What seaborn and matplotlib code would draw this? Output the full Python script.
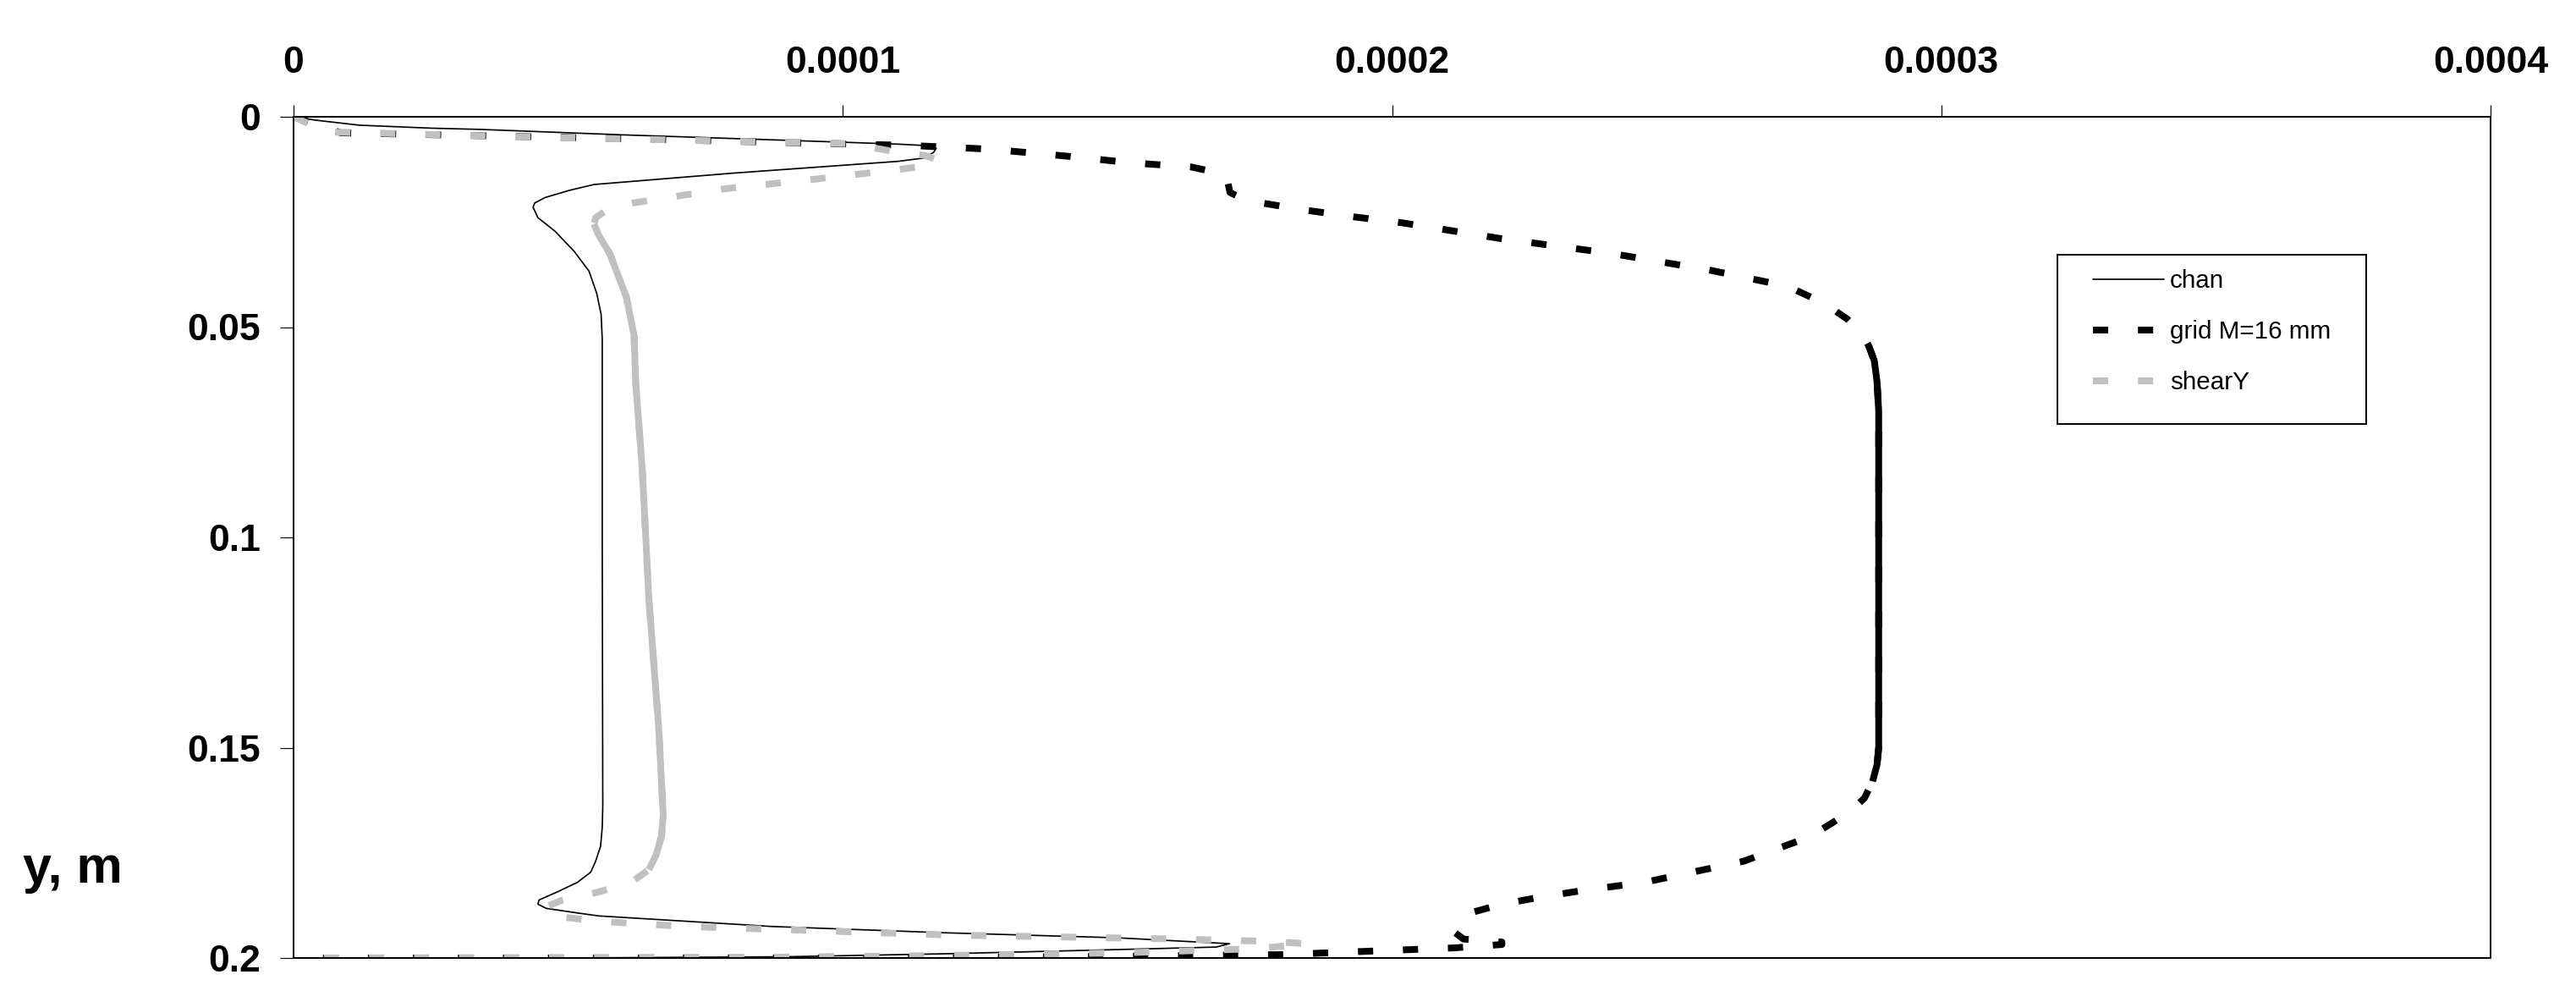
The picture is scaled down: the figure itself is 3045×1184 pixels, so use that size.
import matplotlib
matplotlib.use("Agg")
import matplotlib.pyplot as plt
import seaborn as sns
import numpy as np
from matplotlib.lines import Line2D
from matplotlib.patches import Rectangle

# ---------------- data ----------------
series_names = ["chan", "grid M=16 mm", "shearY"]

chan_x = [0, 4.0e-6, 1.2e-5, 2.5e-5, 3.4e-5, 6.0e-5, 9.0e-5, 1.10e-4, 1.16e-4, 1.17e-4,
          1.165e-4, 1.148e-4, 1.10e-4, 8.0e-5, 5.47e-5, 5.02e-5, 4.58e-5, 4.39e-5, 4.36e-5, 4.45e-5,
          4.76e-5, 5.11e-5, 5.38e-5, 5.52e-5, 5.60e-5, 5.62e-5, 5.62e-5, 5.63e-5, 5.62e-5, 5.59e-5,
          5.50e-5, 5.41e-5, 5.17e-5, 4.80e-5, 4.47e-5, 4.45e-5, 4.60e-5, 5.17e-5, 5.56e-5, 8.7e-5,
          1.185e-4, 1.5e-4, 1.704e-4, 1.68e-4, 1.5e-4, 1.185e-4, 9.0e-5, 5.0e-5, 0]
chan_y = [0, 0.0008, 0.0020, 0.0027, 0.0030, 0.0043, 0.0056, 0.0065, 0.0069, 0.0075,
          0.0085, 0.0098, 0.0106, 0.0134, 0.0161, 0.0175, 0.0192, 0.0205, 0.0215, 0.0240,
          0.0272, 0.0320, 0.0367, 0.0420, 0.0470, 0.0528, 0.1000, 0.1640, 0.1690, 0.1734,
          0.1770, 0.1796, 0.1820, 0.1843, 0.1862, 0.1872, 0.1882, 0.1893, 0.1900, 0.1925,
          0.1940, 0.1952, 0.1966, 0.1974, 0.1980, 0.1990, 0.1997, 0.2000, 0.2000]

grid_x = [0, 8.6e-6, 6.0e-5, 1.12e-4, 1.268e-4, 1.411e-4, 1.53e-4, 1.633e-4, 1.69e-4, 1.70e-4,
          1.705e-4, 1.73e-4, 1.763e-4, 1.843e-4, 1.931e-4, 2.018e-4, 2.20e-4, 2.40e-4, 2.58e-4, 2.72e-4,
          2.786e-4, 2.829e-4, 2.855e-4, 2.868e-4, 2.878e-4, 2.883e-4, 2.886e-4, 2.886e-4, 2.886e-4, 2.883e-4,
          2.875e-4, 2.86e-4, 2.835e-4, 2.80e-4, 2.76e-4, 2.64e-4, 2.46e-4, 2.35e-4, 2.271e-4, 2.197e-4,
          2.150e-4, 2.128e-4, 2.115e-4, 2.13e-4, 2.20e-4, 2.20e-4, 2.112e-4, 2.034e-4, 1.955e-4, 1.80e-4,
          1.50e-4, 1.03e-4, 0]
grid_y = [0, 0.0038, 0.0052, 0.0068, 0.0077, 0.0094, 0.0110, 0.0119, 0.0135, 0.0150,
          0.0180, 0.0196, 0.0205, 0.0222, 0.0238, 0.0252, 0.0290, 0.0325, 0.0365, 0.0403,
          0.0443, 0.0481, 0.0514, 0.0545, 0.0580, 0.0630, 0.0700, 0.1000, 0.1500, 0.1540,
          0.1580, 0.1620, 0.1650, 0.1680, 0.1712, 0.1770, 0.1820, 0.1839, 0.1855, 0.1873,
          0.1890, 0.1910, 0.1940, 0.1955, 0.1962, 0.1968, 0.1976, 0.1980, 0.1984, 0.1992,
          0.1996, 0.2000, 0.2000]

shear_x = [0, 6.0e-6, 5.0e-5, 1.015e-4, 1.086e-4, 1.15e-4, 1.174e-4, 1.16e-4, 1.103e-4, 9.45e-5,
           7.86e-5, 6.18e-5, 5.7e-5, 5.5e-5, 5.47e-5, 5.55e-5, 5.76e-5, 6.06e-5, 6.2e-5, 6.23e-5,
           6.35e-5, 6.47e-5, 6.65e-5, 6.73e-5, 6.70e-5, 6.60e-5, 6.47e-5, 6.18e-5, 5.59e-5, 4.88e-5,
           4.60e-5, 4.60e-5, 4.85e-5, 5.59e-5, 7.12e-5, 1.185e-4, 1.61e-4, 1.767e-4, 1.846e-4, 1.752e-4,
           1.5e-4, 1.185e-4, 8.7e-5, 0]
shear_y = [0, 0.0036, 0.0050, 0.0064, 0.0081, 0.0092, 0.0103, 0.0115, 0.0125, 0.0149,
           0.0171, 0.0205, 0.0222, 0.0240, 0.0255, 0.0280, 0.0326, 0.0429, 0.0520, 0.0634,
           0.0840, 0.1148, 0.1456, 0.1660, 0.1710, 0.1755, 0.1790, 0.1817, 0.1842, 0.1863,
           0.1878, 0.1892, 0.1902, 0.1913, 0.1925, 0.1945, 0.1955, 0.1960, 0.1966, 0.1978,
           0.1988, 0.1994, 0.1998, 0.2000]

x_ticks = [0, 0.0001, 0.0002, 0.0003, 0.0004]
x_tick_labels = ["0", "0.0001", "0.0002", "0.0003", "0.0004"]
y_ticks = [0, 0.05, 0.1, 0.15, 0.2]
y_tick_labels = ["0", "0.05", "0.1", "0.15", "0.2"]
y_label = "y, m"

# ---------------- style ----------------
sns.set_theme(style="ticks")
plt.rcParams['font.family'] = ['Liberation Sans', 'DejaVu Sans']

DPI = 100
W, H = 3045, 1184
PT = 72.0 / DPI  # points per pixel

GRAY = "#C0C0C0"
lw_thin = 1.7 * PT
lw_thick = 8 * PT
dash = (0, (2.25, 4.4))

fig = plt.figure(figsize=(W / DPI, H / DPI), dpi=DPI)
fig.patch.set_facecolor("white")
ax = fig.add_axes([347 / W, 1 - 1132 / H, (2944 - 347) / W, (1132 - 138) / H])
ax.set_facecolor("white")

# solid sections (Excel renders dense sections as continuous)
grid_solid = (0.053, 0.161)
shear_solid = (0.0245, 0.179)

# chan
sns.lineplot(x=chan_x, y=chan_y, sort=False, estimator=None, color="black",
             linewidth=lw_thin, ax=ax)
# grid
sns.lineplot(x=grid_x, y=grid_y, sort=False, estimator=None, color="black",
             linewidth=lw_thick, linestyle=dash, ax=ax)
gx = np.array(grid_x); gy = np.array(grid_y)
m = (gy >= grid_solid[0]) & (gy <= grid_solid[1])
sns.lineplot(x=gx[m], y=gy[m], sort=False, estimator=None, color="black",
             linewidth=lw_thick, solid_capstyle="butt", ax=ax)
# shearY
sns.lineplot(x=shear_x, y=shear_y, sort=False, estimator=None, color=GRAY,
             linewidth=lw_thick, linestyle=dash, ax=ax)
sx = np.array(shear_x); sy = np.array(shear_y)
m = (sy >= shear_solid[0]) & (sy <= shear_solid[1])
sns.lineplot(x=sx[m], y=sy[m], sort=False, estimator=None, color=GRAY,
             linewidth=lw_thick, solid_capstyle="butt", ax=ax)

# axes
ax.set_xlim(0, 0.0004)
ax.set_ylim(0.2, 0)
ax.xaxis.tick_top()
ax.set_xticks(x_ticks)
ax.set_xticklabels(x_tick_labels, fontweight="bold")
ax.set_yticks(y_ticks)
ax.set_yticklabels(y_tick_labels, fontweight="bold")
ax.tick_params(axis="x", which="both", direction="out", top=True, bottom=False,
               labeltop=True, labelbottom=False, length=14 * PT, width=1.2 * PT,
               pad=29 * PT, labelsize=32, colors="black")
ax.tick_params(axis="y", which="both", direction="out", left=True, right=False,
               length=16 * PT, width=1.2 * PT, pad=23 * PT, labelsize=32, colors="black")
for s in ax.spines.values():
    s.set_visible(True)
    s.set_linewidth(2 * PT)
    s.set_color("black")
ax.set_xlabel("")
ax.set_ylabel("")
ax.grid(False)

fig.text(27 / W, 1 - 1043 / H, y_label, fontsize=44, fontweight="bold",
         ha="left", va="baseline", color="black")

# legend
handles = [Line2D([], [], color="black", lw=lw_thin),
           Line2D([], [], color="black", lw=lw_thick, linestyle=dash),
           Line2D([], [], color=GRAY, lw=lw_thick, linestyle=dash)]
leg = ax.legend(handles, series_names, loc="upper left",
                bbox_to_anchor=(2474 / W, 1 - 318 / H), bbox_transform=fig.transFigure,
                frameon=False, fontsize=21.3, handlelength=2.84, handletextpad=0.24,
                labelspacing=1.08, borderpad=0, borderaxespad=0)
for t in leg.get_texts():
    t.set_color("black")
fig.add_artist(Rectangle((2432 / W, 1 - 501 / H), (2797 - 2432) / W, 200 / H,
                         transform=fig.transFigure, fill=False, edgecolor="black",
                         linewidth=2 * PT))

fig.savefig("out.png", dpi=DPI, facecolor="white")
